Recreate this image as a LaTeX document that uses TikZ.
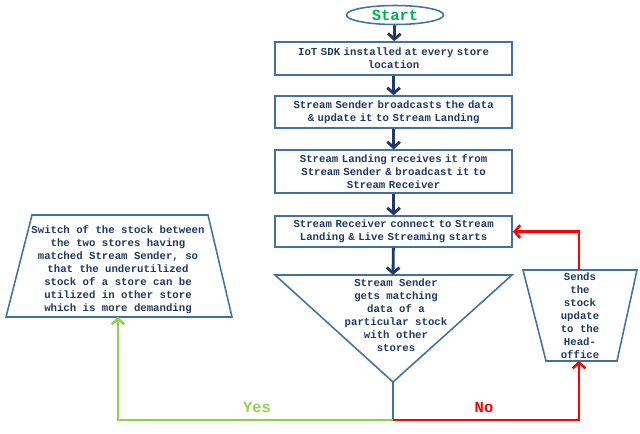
\documentclass[tikz,border=0pt]{standalone}
\usepackage{fontspec}
\usepackage{xcolor}
\usetikzlibrary{arrows.meta, positioning, shapes}
\newfontfamily\flowfont{Liberation Mono}
\definecolor{navy}{HTML}{1F3864}
\definecolor{edgeblue}{HTML}{41719C}
\definecolor{yesgreen}{HTML}{92D050}
\definecolor{startgreen}{HTML}{00B050}
\definecolor{nored}{HTML}{FF0000}

\begin{document}
\begin{tikzpicture}[>=Stealth,
  txt/.style={font=\flowfont\bfseries\fontsize{7.6}{9.2}\selectfont, text=navy, align=center},
  box/.style={txt, rectangle, draw=edgeblue, line width=1.1pt, minimum width=5.925cm,
              text width=5.8cm, inner xsep=0.06cm, inner ysep=0pt},
  outline/.style={draw=edgeblue, line width=1.1pt, line join=miter},
  arrow/.style={-{Straight Barb[length=4pt,width=9pt]}, line width=2pt, navy},
  yes/.style={-{Straight Barb[length=4pt,width=9pt]}, line width=1.8pt, yesgreen},
  no/.style={-{Straight Barb[length=4pt,width=9pt]}, line width=1.8pt, nored},
  label/.style={font=\flowfont\bfseries\fontsize{11}{13}\selectfont}
]
  \useasboundingbox (0,0) rectangle (16,-10.825);

  \node[ellipse, draw=edgeblue, line width=1.1pt, minimum width=2.43cm, minimum height=0.475cm,
        inner sep=0pt, label, text=startgreen] (start) at (9.875,-0.375) {Start};

  \node[box, minimum height=0.825cm] (sdk) at (9.84,-1.46) {IoT SDK installed at every store\\location};
  \node[box, minimum height=0.8cm] (sender) at (9.84,-2.8) {Stream Sender broadcasts the data\\\& update it to Stream Landing};
  \node[box, minimum height=1.075cm] (landing) at (9.84,-4.29) {Stream Landing receives it from\\Stream Sender \& broadcast it to\\Stream Receiver};
  \node[box, minimum height=0.775cm] (recv) at (9.84,-5.79) {Stream Receiver connect to Stream\\Landing \& Live Streaming starts};

  % decision triangle
  \coordinate (tri-top) at (9.825,-6.875);
  \coordinate (tri-tip) at (9.825,-9.55);
  \draw[outline] (6.875,-6.875) -- (12.8,-6.875) -- (tri-tip) -- cycle;
  \node[txt] (match) at (9.9,-7.875) {Stream Sender\\gets matching\\data of a\\particular stock\\with other\\stores};
  \coordinate (split) at (9.825,-10.5);

  % left trapezium
  \draw[outline] (0.8,-5.375) -- (5.2,-5.375) -- (5.8,-7.925) -- (0.15,-7.925) -- cycle;
  \coordinate (swap-base) at (2.95,-7.925);
  \node[txt] (swap) at (2.95,-6.74)
        {Switch of the stock between\\the two stores having\\matched Stream Sender, so\\that the underutilized\\stock of a store can be\\utilized in other store\\which is more demanding};

  % right trapezium
  \draw[outline] (13.075,-6.75) -- (15.925,-6.75) -- (15.425,-9.025) -- (13.65,-9.025) -- cycle;
  \coordinate (head-top) at (14.475,-6.75);
  \coordinate (head-base) at (14.475,-9.025);
  \node[txt] (head) at (14.5,-7.89) {Sends\\the\\stock\\update\\to the\\Head-\\office};

  \draw[arrow] (start) -- (sdk);
  \draw[arrow] (sdk) -- (sender);
  \draw[arrow] (sender) -- (landing);
  \draw[arrow] (landing) -- (recv);
  \draw[arrow] (recv) -- (tri-top);
  \draw[edgeblue, line width=1.1pt] (tri-tip) -- (split);

  \draw[yes] (split) -| (swap-base);
  \draw[no] (split) -| (head-base);
  \draw[no] (head-top) |- (recv.east);

  \node[label, text=yesgreen] (yes-lbl) at (6.425,-10.175) {Yes};
  \node[label, text=nored] (no-lbl) at (12.1,-10.175) {No};
\end{tikzpicture}
\end{document}
